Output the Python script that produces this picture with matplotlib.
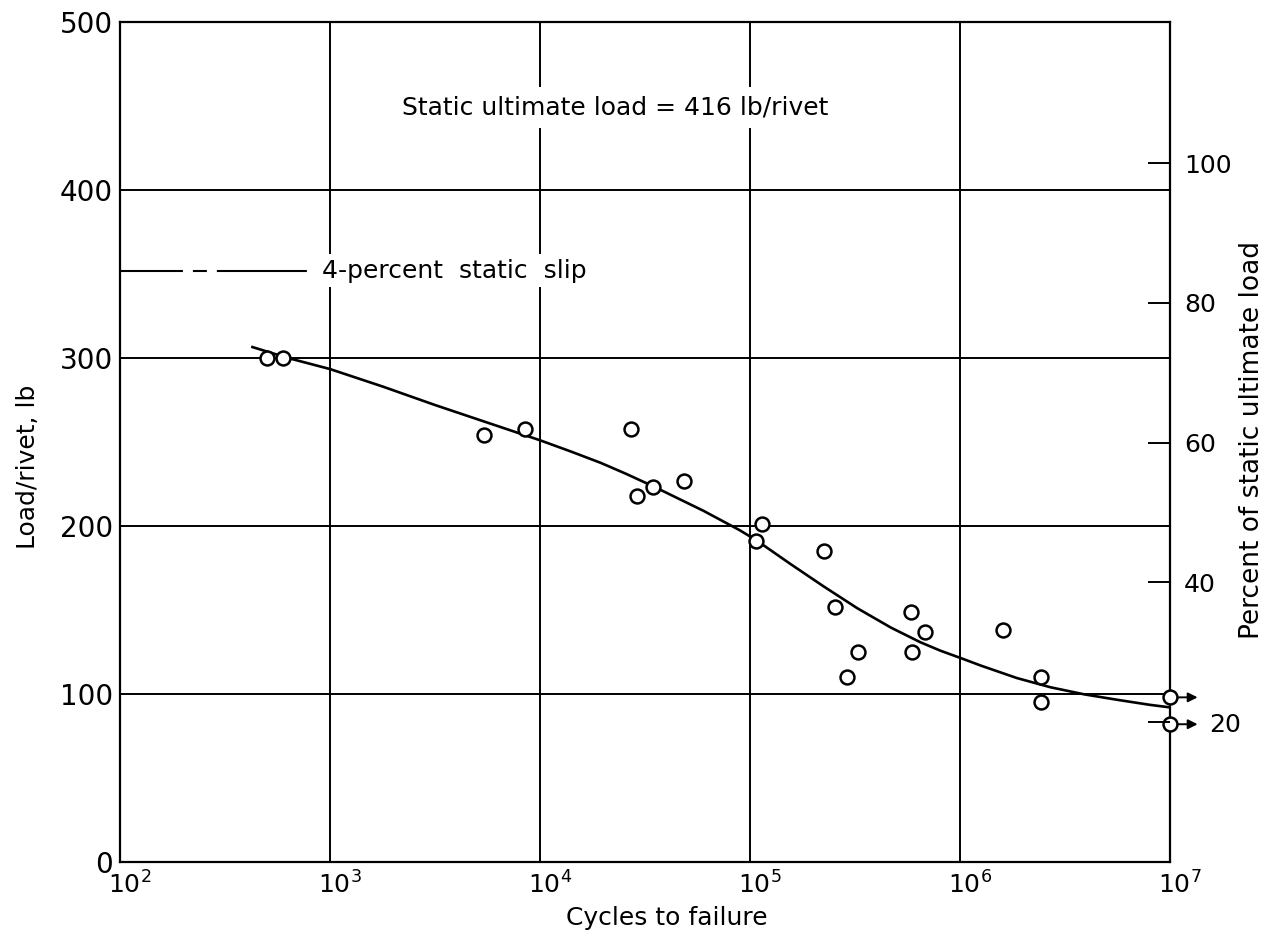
import matplotlib
matplotlib.use("Agg")
import matplotlib.pyplot as plt
from matplotlib.transforms import ScaledTranslation

# Fatigue test results, load per rivet vs cycles to failure
cycles = [500, 600, 5400, 8500, 27000, 29000, 34500, 48500, 114000, 107000,
          225000, 254000, 327000, 290000, 585000, 591000, 681000, 1.6e6,
          2.43e6, 2.43e6]
load = [300, 300, 254, 258, 258, 218, 223, 227, 201, 191,
        185, 152, 125, 110, 149, 125, 137, 138,
        110, 95]

# Specimens that did not fail (run-outs)
runout_cycles = [1e7, 1e7]
runout_load = [98, 82]

# Faired curve through the data
curve_cycles = [427, 630, 1000, 1780, 3160, 5620, 1e4, 14100, 19500, 25700,
                34700, 60000, 89100, 107000, 155000, 224000, 324000, 468000,
                646000, 804000, 1.02e6, 1.26e6, 1.86e6, 2.69e6, 3.89e6,
                5.62e6, 7.94e6, 1e7]
curve_load = [306.5, 300, 293.4, 283, 272, 261.5, 251, 244.2, 237.5, 231,
              223.5, 209, 197.5, 191.5, 177.5, 164, 151, 139.5,
              130.8, 125.8, 121.1, 116.8, 109.5, 104, 99.8,
              96.5, 93.6, 92]

static_ultimate = 416
slip_load = 352

fig = plt.figure(figsize=(12.7, 9.39), dpi=100)
ax = fig.add_axes([0.0945, 0.082, 0.827, 0.8946])

ax.set_xscale("log")
ax.set_xlim(1e2, 1e7)
ax.set_ylim(0, 500)
ax.set_yticks([0, 100, 200, 300, 400, 500])
ax.grid(True, which="major", color="black", linewidth=1.4)
ax.tick_params(which="both", length=0)
ax.tick_params(axis="y", pad=5, labelsize=20)
ax.tick_params(axis="x", pad=7, labelsize=18)
ax.minorticks_off()
for s in ax.spines.values():
    s.set_linewidth(1.6)

# keep the "10" of each power label centred on its grid line
shift = ScaledTranslation(7 / 72, 0, fig.dpi_scale_trans)
for lbl in ax.get_xticklabels():
    lbl.set_transform(lbl.get_transform() + shift)

ax.plot(curve_cycles, curve_load, color="black", linewidth=1.9, zorder=3)
ax.plot(cycles, load, linestyle="none", marker="o", markersize=10,
        markerfacecolor="white", markeredgecolor="black", markeredgewidth=1.8,
        zorder=4)
ax.plot(runout_cycles, runout_load, linestyle="none", marker="o", markersize=10,
        markerfacecolor="white", markeredgecolor="black", markeredgewidth=1.8,
        zorder=5, clip_on=False)
for xr, yr in zip(runout_cycles, runout_load):
    ax.annotate("", xy=(1.026, yr), xycoords=("axes fraction", "data"),
                xytext=(xr, yr), textcoords="data",
                arrowprops=dict(arrowstyle="-|>", color="black", lw=1.4,
                                shrinkA=6, shrinkB=0, mutation_scale=14),
                annotation_clip=False)

# 4-percent static slip marker line
ax.plot([0, 0.178], [slip_load, slip_load], color="black", linewidth=1.5,
        dashes=[30.2, 4.8, 6.7, 4.8, 43.2, 100],
        transform=ax.get_yaxis_transform(), zorder=3)
ax.text(0.192, slip_load, "4-percent  static  slip", fontsize=18,
        va="center", ha="left", transform=ax.get_yaxis_transform(),
        bbox=dict(facecolor="white", edgecolor="none", pad=3), zorder=4)

ax.text(0.471, 0.898, "Static ultimate load = 416 lb/rivet", fontsize=18,
        va="center", ha="center", transform=ax.transAxes,
        bbox=dict(facecolor="white", edgecolor="none", pad=6), zorder=4)

ax.set_xlabel("Cycles to failure", fontsize=18)
ax.xaxis.set_label_coords(0.521, -0.052)
ax.set_ylabel("Load/rivet, lb", fontsize=18)
ax.yaxis.set_label_coords(-0.076, 0.47)

# Right-hand scale in percent of static ultimate load
ax2 = ax.twinx()
ax2.set_ylim(0, 500 / static_ultimate * 100)
ax2.set_yticks([20, 40, 60, 80, 100])
ax2.tick_params(direction="in", length=16, width=1.4, labelsize=18, pad=10)
ax2.set_ylabel("Percent of static ultimate load", fontsize=19)
ax2.yaxis.set_label_coords(1.065, 0.502)
for s in ax2.spines.values():
    s.set_visible(False)

# the 20 label sits clear of the run-out arrows
nudge = ScaledTranslation(18 / 72, 0, fig.dpi_scale_trans)
for lbl, val in zip(ax2.get_yticklabels(), ax2.get_yticks()):
    if val == 20:
        lbl.set_transform(lbl.get_transform() + nudge)

fig.savefig("out.png", dpi=100)
